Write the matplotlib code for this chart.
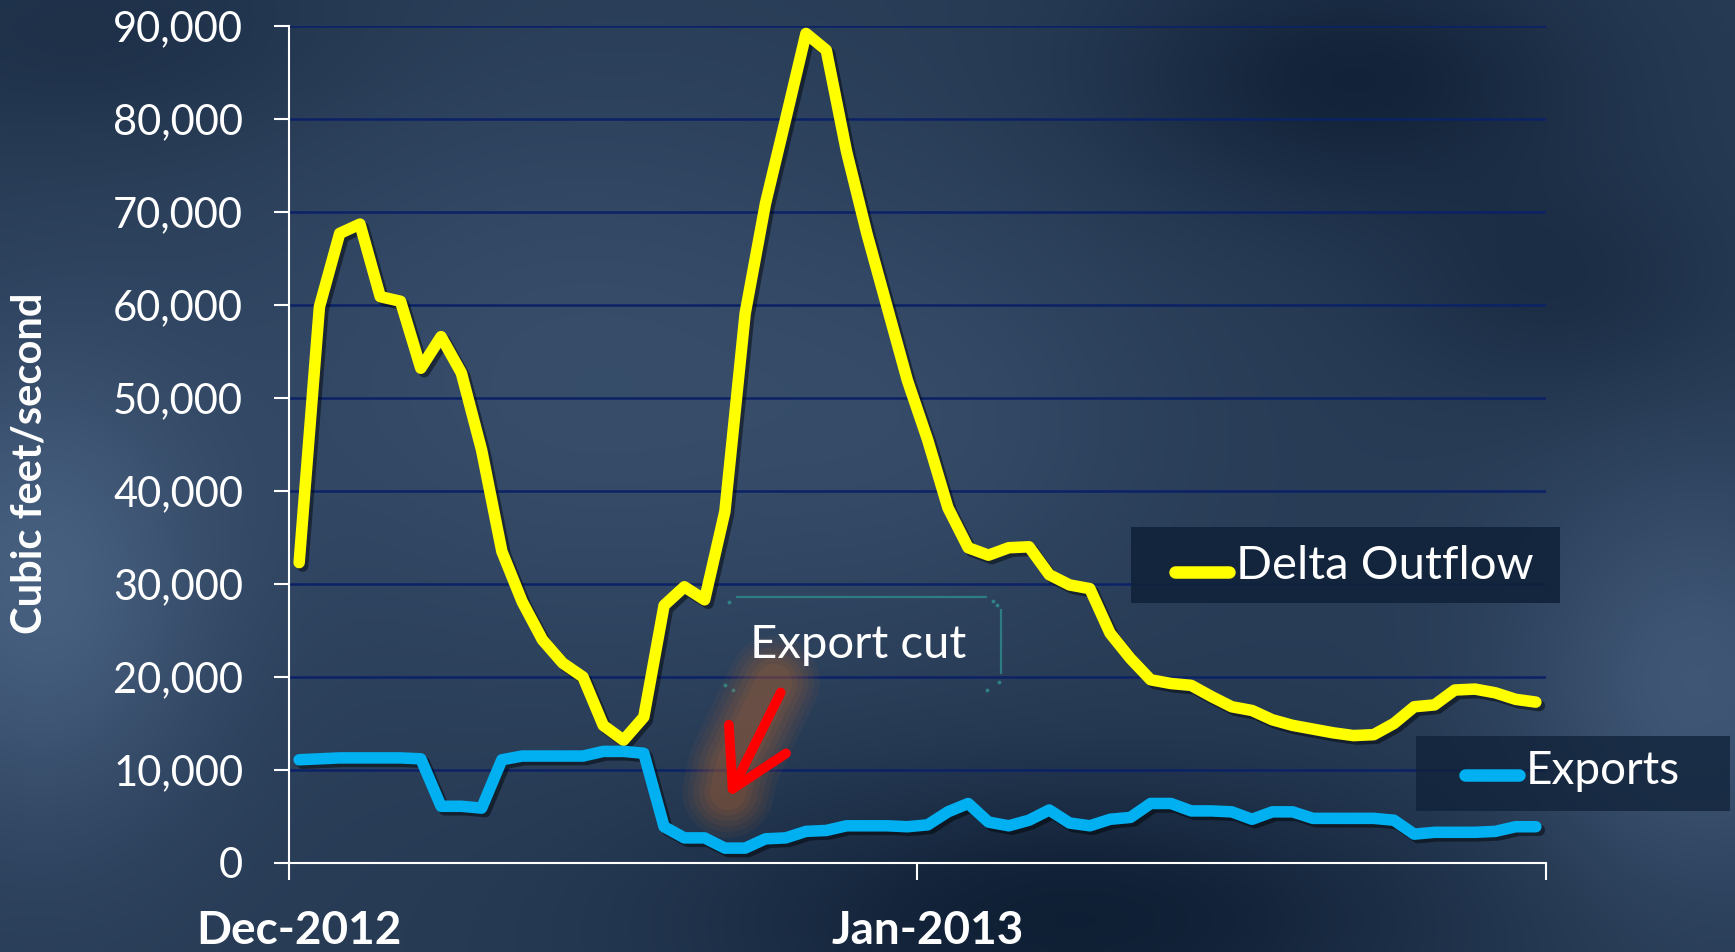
import numpy as np
import matplotlib
matplotlib.use("Agg")
import matplotlib.pyplot as plt
import matplotlib.dates as mdates
from matplotlib import patheffects as pe
from matplotlib.patches import Rectangle

plt.rcParams['font.family'] = ['Lato', 'DejaVu Sans']

# daily values, Dec 1 2012 .. Jan 31 2013 (cfs)
dates = np.arange('2012-12-01', '2013-02-01', dtype='datetime64[D]')
delta_outflow = [32300, 59800, 67700, 68700, 60900, 60400, 53200, 56600, 52700, 44400,
                 33500, 28100, 24000, 21500, 20000, 14800, 13200, 15700, 27700, 29700,
                 28300, 37800, 59100, 70900, 80000, 89200, 87400, 76500, 67700, 59800,
                 51900, 45500, 38200, 33900, 33100, 33900, 34000, 31000, 29900, 29500,
                 24700, 22000, 19700, 19300, 19100, 17900, 16800, 16400, 15400, 14800,
                 14400, 14000, 13700, 13800, 15000, 16800, 17000, 18600, 18700, 18300,
                 17600, 17300]
exports = [11100, 11200, 11300, 11300, 11300, 11300, 11200, 6100, 6100, 5900,
           11100, 11500, 11500, 11500, 11500, 12000, 12000, 11800, 3900, 2700,
           2700, 1600, 1600, 2600, 2700, 3400, 3500, 4000, 4000, 4000,
           3900, 4100, 5500, 6400, 4400, 4000, 4600, 5700, 4300, 4000,
           4700, 4900, 6400, 6400, 5600, 5600, 5500, 4700, 5500, 5500,
           4800, 4800, 4800, 4800, 4600, 3100, 3300, 3300, 3300, 3400,
           3900, 3900]
month_labels = ['Dec-2012', 'Jan-2013']
y_ticks = np.arange(0, 90001, 10000)

W, H = 1735, 952
fig = plt.figure(figsize=(W / 100, H / 100), dpi=100)

# background: dark blue slide texture
bg = fig.add_axes([0, 0, 1, 1], zorder=0)
yy, xx = np.mgrid[0:1:120j, 0:1:220j]
t = np.full_like(xx, 0.45)
for cx, cy, sx, sy, amp in [(0.02, 0.62, 0.10, 0.25, 0.45), (0.33, 0.40, 0.22, 0.30, 0.22),
                            (0.78, 0.08, 0.14, 0.14, -0.32), (0.62, 0.97, 0.22, 0.15, -0.38),
                            (0.98, 0.72, 0.10, 0.22, 0.35), (0.05, 0.03, 0.15, 0.12, -0.15),
                            (0.90, 0.30, 0.10, 0.12, -0.18), (0.55, 0.45, 0.12, 0.20, 0.10)]:
    t += amp * np.exp(-((xx - cx) / sx) ** 2 - ((yy - cy) / sy) ** 2)
t = np.clip(t, 0, 1)[..., None]
dark = np.array([0.04, 0.10, 0.18])
light = np.array([0.30, 0.40, 0.53])
bg.imshow(dark + t * (light - dark), aspect='auto', interpolation='bilinear', extent=[0, 1, 0, 1])
bg.axis('off')

ax = fig.add_axes([289 / W, 1 - 863 / H, (1546 - 289) / W, (863 - 26) / H], zorder=2)
ax.patch.set_alpha(0)

x = mdates.date2num(dates) + 0.5
shadow = [pe.SimpleLineShadow(offset=(2.5, -2.5), shadow_color='black', alpha=0.45), pe.Normal()]
ax.plot(x, delta_outflow, color='#FFFF00', lw=8.3, solid_joinstyle='round',
        solid_capstyle='round', path_effects=shadow, zorder=3)
ax.plot(x, exports, color='#00B0F0', lw=8.3, solid_joinstyle='round',
        solid_capstyle='round', path_effects=shadow, zorder=3)

x0 = mdates.date2num(np.datetime64('2012-12-01'))
x1 = mdates.date2num(np.datetime64('2013-02-01'))
ax.set_xlim(x0, x1)
ax.set_ylim(0, 90000)

ax.set_yticks(y_ticks)
ax.set_yticklabels([f'{v:,}' for v in y_ticks])
ax.tick_params(axis='y', colors='white', labelsize=30, length=11, width=1.5, pad=22)
ax.yaxis.grid(True, color='#0c2266', lw=1.8)
ax.set_axisbelow(True)

month_starts = mdates.date2num(np.array(['2012-12-01', '2013-01-01', '2013-02-01'], dtype='datetime64[D]'))
ax.set_xticks(month_starts)
ax.set_xticklabels([])
ax.set_xticks(month_starts[:2] + 0.5, minor=True)
ax.set_xticklabels(month_labels, minor=True, fontweight='bold')
ax.tick_params(axis='x', which='major', colors='white', length=12, width=1.5)
ax.tick_params(axis='x', which='minor', colors='white', length=0, labelsize=33, pad=34)

for s in ['top', 'right']:
    ax.spines[s].set_visible(False)
for s in ['left', 'bottom']:
    ax.spines[s].set_color('white')
    ax.spines[s].set_linewidth(1.5)

fig.text(30 / W, 1 - 463 / H, 'Cubic feet/second', rotation=90, color='white',
         fontsize=30, fontweight='bold', ha='center', va='center')

# overlay in pixel coordinates for callouts and legend boxes
ov = fig.add_axes([0, 0, 1, 1], zorder=5)
ov.set_xlim(0, W)
ov.set_ylim(H, 0)
ov.axis('off')

teal = '#2f8c8c'
ov.plot([737, 986], [597, 597], color=teal, lw=1.6, alpha=0.8)
ov.plot([1001, 1001], [610, 673], color=teal, lw=1.6, alpha=0.8)
ov.plot([729, 993, 997, 725, 733, 987, 999], [602, 601, 605, 685, 690, 690, 682],
        'o', color=teal, ms=1.8, alpha=0.8)
ov.text(858, 645, 'Export cut', color='white', fontsize=34, ha='center', va='center')

# soft orange glow behind the arrow
for lw, a in [(66, 0.07), (58, 0.08), (50, 0.09), (42, 0.10), (34, 0.11), (26, 0.12)]:
    ov.plot([774, 734, 728], [682, 765, 792], color='#b8662f', lw=lw, alpha=a,
            solid_capstyle='round', solid_joinstyle='round')
ov.annotate('', xy=(727, 800), xytext=(782, 690),
            arrowprops=dict(arrowstyle='->,head_length=4.0,head_width=2.3',
                            color='red', lw=7, capstyle='round', joinstyle='round'))

# legend boxes
ov.add_patch(Rectangle((1131, 527), 429, 76, color='#0f2138', alpha=0.85, lw=0))
ov.plot([1175, 1229], [572, 572], color='#FFFF00', lw=9, solid_capstyle='round')
ov.text(1236, 566, 'Delta Outflow', color='white', fontsize=34, ha='left', va='center')

ov.add_patch(Rectangle((1416, 736), 314, 75, color='#0f2138', alpha=0.75, lw=0))
ov.plot([1465, 1519], [775, 775], color='#00B0F0', lw=9, solid_capstyle='round')
ov.text(1526, 771, 'Exports', color='white', fontsize=33, ha='left', va='center')

fig.savefig('out.png', dpi=100)
